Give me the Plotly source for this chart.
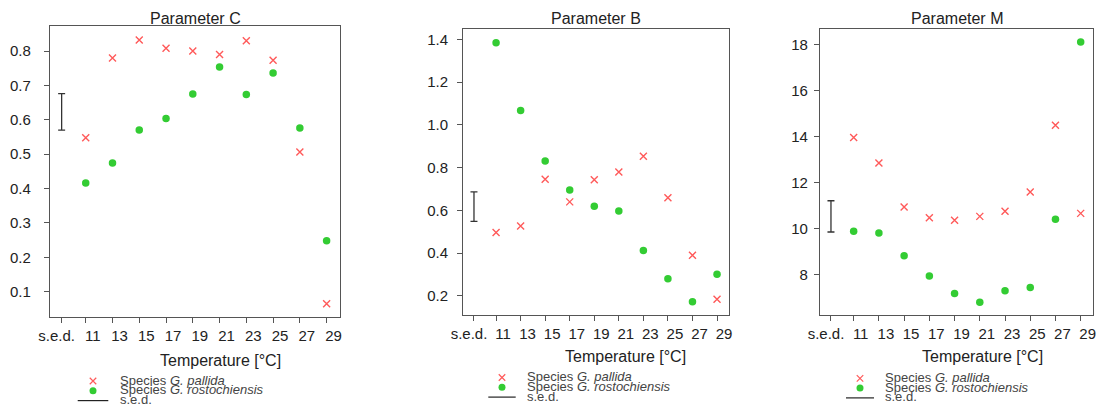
import plotly.graph_objects as go

# Temperatures (°C) and the position of the s.e.d. column on the x axis
temps = [11, 13, 15, 17, 19, 21, 23, 25, 27, 29]
temp_labels = [str(t) for t in temps]
sed_pos = 9.2
sed_label = "s.e.d."

# Parameter C
c_pallida = [0.548, 0.780, 0.832, 0.808, 0.800, 0.790, 0.830, 0.773, 0.506, 0.065]
c_rosto = [0.416, 0.474, 0.570, 0.604, 0.675, 0.754, 0.674, 0.736, 0.576, 0.248]
c_sed_low, c_sed_high = 0.570, 0.676

# Parameter B
b_pallida = [0.497, 0.527, 0.746, 0.640, 0.743, 0.780, 0.853, 0.659, 0.390, 0.185]
b_rosto = [1.384, 1.067, 0.831, 0.696, 0.619, 0.597, 0.413, 0.280, 0.173, 0.302]
b_sed_low, b_sed_high = 0.549, 0.687

# Parameter M
m_pallida = [13.95, 12.84, 10.93, 10.46, 10.35, 10.52, 10.74, 11.58, 14.48, 10.65]
m_rosto = [9.87, 9.80, 8.81, 7.93, 7.16, 6.78, 7.29, 7.43, 10.40, 18.10]
m_sed_low, m_sed_high = 9.84, 11.20

c_yticks = [0.1, 0.2, 0.3, 0.4, 0.5, 0.6, 0.7, 0.8]
b_yticks = [0.2, 0.4, 0.6, 0.8, 1.0, 1.2, 1.4]
m_yticks = [8, 10, 12, 14, 16, 18]

W, H = 1106, 408
XRANGE = [8.33, 30.0]
RED = "#ff5a5a"
GREEN = "#33cc33"
AXCOL = "#555555"
TXT = "#222222"
FONT = "Liberation Sans, Arial, sans-serif"

panels = [
    dict(title="Parameter C", pal=c_pallida, ros=c_rosto, sed=(c_sed_low, c_sed_high),
         yticks=c_yticks, yfmt=".1f", yrange=[0.027, 0.873],
         box=(50, 340, 26, 316.7), standoff=10,
         xlab=(220, 360), leg=(93, 77.7, 108.3, 118, 381)),
    dict(title="Parameter B", pal=b_pallida, ros=b_rosto, sed=(b_sed_low, b_sed_high),
         yticks=b_yticks, yfmt=".1f", yrange=[0.111, 1.447],
         box=(463.3, 729.3, 29.3, 315), standoff=6,
         xlab=(625, 356), leg=(502, 488.3, 515.7, 525, 377.5)),
    dict(title="Parameter M", pal=m_pallida, ros=m_rosto, sed=(m_sed_low, m_sed_high),
         yticks=m_yticks, yfmt="d", yrange=[6.23, 18.67],
         box=(820, 1093.3, 29, 315), standoff=3,
         xlab=(982, 356.5), leg=(860, 846, 874, 883, 378.3)),
]

fig = go.Figure()
annotations = []

common = dict(showline=True, mirror=True, linecolor=AXCOL, linewidth=1.3,
              ticks="outside", ticklen=5, tickwidth=1, tickcolor=AXCOL,
              showgrid=False, zeroline=False, automargin=False,
              tickfont=dict(family=FONT, size=15, color=TXT))

for i, p in enumerate(panels):
    n = "" if i == 0 else str(i + 1)
    sed_n = str(5 + i)  # extra x axis carrying the s.e.d. tick
    xa, ya, xs = "x" + n, "y" + n, "x" + sed_n
    x0, x1, y0, y1 = p["box"]
    fig.add_trace(go.Scatter(
        x=temps, y=p["pal"], mode="markers", xaxis=xa, yaxis=ya, showlegend=False,
        marker=dict(symbol="x-thin", size=7, color=RED, line=dict(color=RED, width=1.4))))
    fig.add_trace(go.Scatter(
        x=temps, y=p["ros"], mode="markers", xaxis=xa, yaxis=ya, showlegend=False,
        marker=dict(symbol="circle", size=7.5, color=GREEN)))
    lo, hi = p["sed"]
    fig.add_trace(go.Scatter(
        x=[sed_pos], y=[(lo + hi) / 2], mode="markers", xaxis=xs, yaxis=ya, showlegend=False,
        marker=dict(size=1, color="rgba(0,0,0,0)"),
        error_y=dict(type="data", array=[(hi - lo) / 2], symmetric=True,
                     color="#333333", thickness=1.3, width=3.5)))

    fig.update_layout(**{
        "xaxis" + n: dict(common, domain=[x0 / W, x1 / W], range=XRANGE,
                          tickvals=temps, ticktext=temp_labels, tickangle=0,
                          ticklabelshift=7, anchor=ya),
        "xaxis" + sed_n: dict(common, showline=False, mirror=False, range=XRANGE,
                              overlaying=xa, anchor=ya, side="bottom",
                              tickvals=[sed_pos], ticktext=[sed_label], tickangle=0,
                              ticklabelshift=-5),
        "yaxis" + n: dict(common, domain=[1 - y1 / H, 1 - y0 / H], range=p["yrange"],
                          tickvals=p["yticks"], tickformat=p["yfmt"], anchor=xa,
                          ticklabelstandoff=p["standoff"]),
    })

    annotations.append(dict(text=p["title"], xref="paper", yref="paper",
                            x=(x0 + x1) / 2 / W, y=1 - 18.5 / H, showarrow=False,
                            xanchor="center", yanchor="middle",
                            font=dict(family=FONT, size=16, color=TXT)))
    annotations.append(dict(text="Temperature [°C]", xref="paper", yref="paper",
                            x=p["xlab"][0] / W, y=1 - p["xlab"][1] / H, showarrow=False,
                            xanchor="center", yanchor="middle",
                            font=dict(family=FONT, size=16, color=TXT)))

    # legend block under each panel
    mx, lx0, lx1, tx, ly = p["leg"]
    rows = [ly, ly + 9.8, ly + 19.6]
    fig.add_trace(go.Scatter(
        x=[mx], y=[rows[0]], mode="markers", xaxis="x4", yaxis="y4", showlegend=False,
        marker=dict(symbol="x-thin", size=6.5, color=RED, line=dict(color=RED, width=1.2))))
    fig.add_trace(go.Scatter(
        x=[mx], y=[rows[1]], mode="markers", xaxis="x4", yaxis="y4", showlegend=False,
        marker=dict(symbol="circle", size=7, color=GREEN)))
    fig.add_trace(go.Scatter(
        x=[lx0, lx1], y=[rows[2], rows[2]], mode="lines", xaxis="x4", yaxis="y4",
        showlegend=False, line=dict(color="#222222", width=1.2)))
    labels = ["Species <i>G. pallida</i>", "Species <i>G. rostochiensis</i>", "s.e.d."]
    for r, lab in zip(rows, labels):
        annotations.append(dict(text=lab, xref="paper", yref="paper",
                                x=tx / W, y=1 - (r - 1) / H, showarrow=False,
                                xanchor="left", yanchor="middle",
                                font=dict(family=FONT, size=13, color="#444444")))

fig.update_layout(
    xaxis4=dict(domain=[0, 1], range=[0, W], visible=False, anchor="y4",
                fixedrange=True, automargin=False),
    yaxis4=dict(domain=[0, 1], range=[H, 0], visible=False, anchor="x4",
                fixedrange=True, automargin=False),
)

fig.update_layout(
    width=W, height=H, margin=dict(l=0, r=0, t=0, b=0, autoexpand=False),
    paper_bgcolor="white", plot_bgcolor="rgba(0,0,0,0)",
    showlegend=False, annotations=annotations,
    font=dict(family=FONT, color=TXT),
)

fig.write_html("out.html")
